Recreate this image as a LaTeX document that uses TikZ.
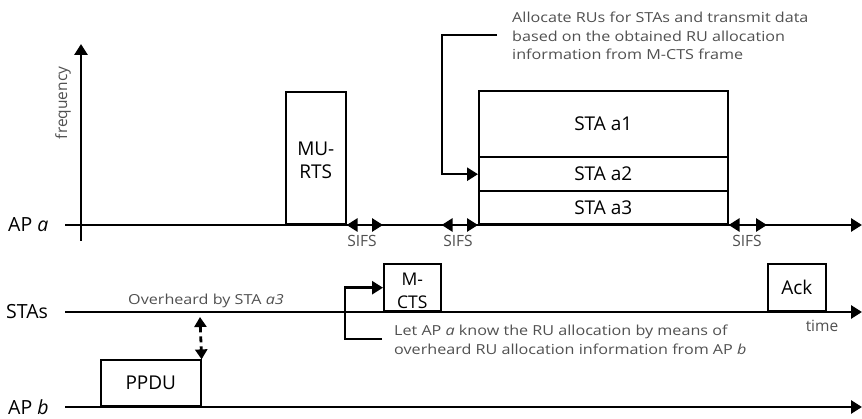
\documentclass[tikz,border=0pt]{standalone}
\usepackage{fontspec}
\setmainfont{Open Sans}
\newfontfamily\notefont{Open Sans}[FakeStretch=1.17]
\usetikzlibrary{arrows.meta}
\definecolor{note}{HTML}{505050}
\begin{document}
\begin{tikzpicture}[x=1pt,y=-1pt,
  tip/.tip={Triangle[length=11pt,width=13pt]},
  axis/.style={line width=2.8pt,-tip},
  frame/.style={draw,line width=1.6pt,inner sep=0pt,align=center,font=\fontsize{19}{23}\selectfont},
  sifs/.style={line width=2.8pt,tip-tip},
  callout/.style={line width=2.6pt,-tip},
  lbl/.style={font=\fontsize{19.5}{23}\selectfont,anchor=base west,inner sep=0pt},
  notetxt/.style={font=\notefont\fontsize{13.8}{18.5}\selectfont,text=note,inner sep=0pt,align=left},
  small/.style={font=\fontsize{15.5}{18}\selectfont,text=note,inner sep=0pt}]
\useasboundingbox (0,0) rectangle (862,419);
% axes
\coordinate (fbot) at (81,241);
\coordinate (ftop) at (81,44);
\draw[axis] (fbot) -- (ftop);
\coordinate (aL) at (65,225);  \coordinate (aR) at (862,225);
\coordinate (sL) at (65,312);  \coordinate (sR) at (862,312);
\coordinate (bL) at (65,407);  \coordinate (bR) at (862,407);
\draw[axis] (aL) -- (aR);
\draw[axis] (sL) -- (sR);
\draw[axis] (bL) -- (bR);
\node[lbl] (lapa) at (8,232) {AP \textit{a}};
\node[lbl] (lsta) at (6,319) {STAs};
\node[lbl] (lapb) at (8,414) {AP \textit{b}};
\node[small,rotate=90] (freq) at (63,103) {frequency};
\node[small,anchor=base] (time) at (822,332) {time};
% frames
\node[frame,minimum width=60pt,minimum height=132pt,anchor=south west] (murts) at (285,225) {\rule{0pt}{17.5pt}MU-\\RTS};
\node[frame,minimum width=249pt,minimum height=66pt,anchor=south west] (a1) at (478,158) {STA a1};
\node[frame,minimum width=249pt,minimum height=34pt,anchor=south west] (a2) at (478,192) {STA a2};
\node[frame,minimum width=249pt,minimum height=33pt,anchor=south west] (a3) at (478,225) {STA a3};
\node[frame,minimum width=57pt,minimum height=47pt,anchor=south west,font=\fontsize{17.5}{22.5}\selectfont] (mcts) at (383,312) {\rule{0pt}{18.5pt}M-\\CTS};
\node[frame,minimum width=58pt,minimum height=47pt,anchor=south west] (ack) at (767,312) {Ack};
\node[frame,minimum width=100pt,minimum height=46pt,anchor=south west] (ppdu) at (100,407) {PPDU};
% SIFS
\draw[sifs] (murts.south east) -- (murts.south east -| mcts.west);
\draw[sifs] (mcts.east |- a3.south) -- (a3.south west);
\draw[sifs] (a3.south east) -- (ack.west |- a3.south);
\node[small,anchor=base] (s1) at (362,247) {SIFS};
\node[small,anchor=base] (s2) at (458,247) {SIFS};
\node[small,anchor=base] (s3) at (747,247) {SIFS};
% callouts
\node[notetxt,anchor=north west] (n1) at (512,12) {Allocate RUs for STAs and transmit data\\based on the obtained RU allocation\\information from M-CTS frame};
\coordinate (c1) at (497,35);
\draw[callout] (c1) -- (442,35) |- (a2.west);
\node[notetxt,anchor=north west] (n2) at (394,325) {Let AP \textit{a} know the RU allocation by means of\\overheard RU allocation information from AP \textit{b}};
\coordinate (c2) at (382,339);
\draw[callout] (c2) -- (345,339) |- (mcts.west);
\node[notetxt,anchor=base] (ov) at (206,305) {Overheard by STA \textit{a3}};
\coordinate (dtop) at (200,317);
\draw[line width=2.8pt,dash pattern=on 6pt off 4pt,{Triangle[length=10pt,width=12pt]}-{Triangle[length=10pt,width=12pt]}] (dtop) -- (ppdu.north east);
\end{tikzpicture}
\end{document}
